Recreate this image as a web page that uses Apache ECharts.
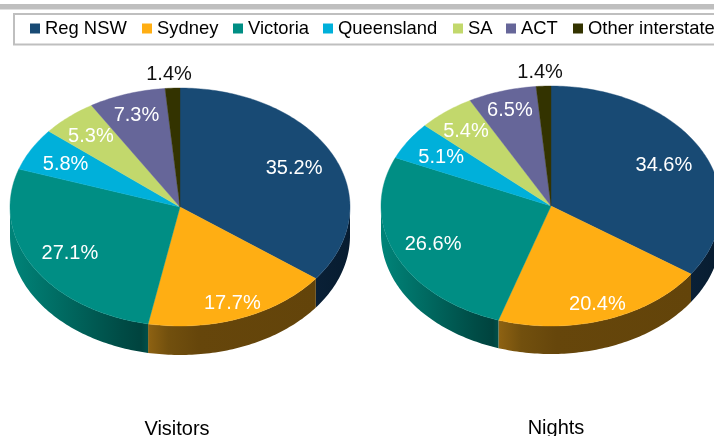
<!DOCTYPE html>
<html>
<head>
<meta charset="utf-8">
<style>
  html, body { margin: 0; padding: 0; background: #fff; }
  #main { width: 714px; height: 436px; overflow: hidden; }
</style>
<script src="https://cdn.jsdelivr.net/npm/echarts@6/dist/echarts.min.js"></script>
</head>
<body>
<div id="main"></div>
<script>
var categories = ['Reg NSW', 'Sydney', 'Victoria', 'Queensland', 'SA', 'ACT', 'Other interstate'];
var pieNames = ['Visitors', 'Nights'];
var visitors = [35.2, 17.7, 27.1, 5.8, 5.3, 7.3, 1.4];
var nights = [34.6, 20.4, 26.6, 5.1, 5.4, 6.5, 1.4];
var pieValues = [visitors, nights];

var colors = ['#184A74', '#FFAE13', '#008E84', '#00B0DA', '#C2D86C', '#666699', '#333300'];
var labelColors = ['#fff', '#fff', '#fff', '#fff', '#fff', '#fff', '#111'];

// layout of the two tilted pies
var pies = [
  {cx: 180, cy: 207, rx: 170, ry: 119, depth: 29},
  {cx: 551, cy: 206, rx: 170, ry: 120, depth: 28}
];
// how far out each label sits, as a share of the radius
var labelRadius = [
  [0.75, 0.855, 0.75, 0.77, 0.80, 0.82, 1.13],
  [0.75, 0.85, 0.76, 0.77, 0.81, 0.84, 1.13]
];
var legendLeft = [30, 142, 233, 323, 453, 506, 573];

// only the front half of the pie shows a wall
var wallFills = {
  0: [[0, '#0A2036'], [1, '#071C30']],
  1: [[0, '#8E6212'], [0.12, '#72500E'], [0.3, '#66460B'], [1, '#63440A']],
  2: [[0, '#008479'], [0.35, '#006C63'], [0.8, '#004C46'], [0.95, '#00433E'], [1, '#00504A']]
};

function point(pie, deg, yOffset) {
  var a = deg * Math.PI / 180;
  return [pie.cx + pie.rx * Math.sin(a), pie.cy - pie.ry * Math.cos(a) + (yOffset || 0)];
}

function renderSlice(catIndex) {
  return function (params) {
    var pieIndex = params.dataIndex;
    var pie = pies[pieIndex];
    var values = pieValues[pieIndex];
    var total = values.reduce(function (a, b) { return a + b; }, 0);
    var before = 0;
    for (var i = 0; i < catIndex; i++) before += values[i];
    var start = before / total * 360;
    var end = (before + values[catIndex]) / total * 360;
    var children = [];

    var wallStart = Math.max(start, 90);
    var wallEnd = Math.min(end, 270);
    if (wallEnd > wallStart) {
      var upper = [], lower = [];
      for (var d = wallStart; d < wallEnd; d += 1) {
        upper.push(point(pie, d));
        lower.unshift(point(pie, d, pie.depth));
      }
      upper.push(point(pie, wallEnd));
      lower.unshift(point(pie, wallEnd, pie.depth));
      children.push({
        type: 'polygon',
        z2: 1,
        shape: {points: upper.concat(lower)},
        style: {
          fill: {
            type: 'linear', x: 0, y: 0, x2: 1, y2: 0,
            colorStops: wallFills[catIndex].map(function (s) { return {offset: s[0], color: s[1]}; })
          }
        }
      });
    }

    var top = [[pie.cx, pie.cy]];
    for (var t = start; t < end; t += 1) top.push(point(pie, t));
    top.push(point(pie, end));
    children.push({
      type: 'polygon',
      z2: 2,
      shape: {points: top},
      style: {fill: colors[catIndex], stroke: colors[catIndex], lineWidth: 0.4}
    });

    var mid = (start + end) / 2 * Math.PI / 180;
    var frac = labelRadius[pieIndex][catIndex];
    var smallSlice = values[catIndex] < 2;
    children.push({
      type: 'text',
      z2: 3,
      x: pie.cx + pie.rx * frac * Math.sin(mid) + (smallSlice ? -2.5 : 0),
      y: pie.cy - pie.ry * frac * Math.cos(mid) + 1.5,
      style: {
        text: values[catIndex].toFixed(1) + '%',
        fill: labelColors[catIndex],
        font: '20px "Liberation Sans"',
        align: 'center',
        verticalAlign: 'middle'
      }
    });

    return {type: 'group', children: children};
  };
}

var series = categories.map(function (name, i) {
  return {
    type: 'custom',
    name: name,
    coordinateSystem: 'none',
    silent: true,
    color: colors[i],
    animation: false,
    data: [[visitors[i]], [nights[i]]],
    renderItem: renderSlice(i)
  };
});

var legends = categories.map(function (name, i) {
  return {
    data: [name],
    left: legendLeft[i],
    top: 19.5,
    padding: 0,
    icon: 'rect',
    itemWidth: 10,
    itemHeight: 10,
    selectedMode: false,
    textStyle: {fontFamily: 'Liberation Sans', fontSize: 18.4, color: '#000'}
  };
});

var option = {
  backgroundColor: '#fff',
  animation: false,
  legend: legends,
  title: [
    {text: pieNames[0], left: 177, top: 419, textAlign: 'center', padding: 0,
      textStyle: {fontFamily: 'Liberation Sans', fontSize: 20, fontWeight: 'normal', color: '#000'}},
    {text: pieNames[1], left: 556, top: 418, textAlign: 'center', padding: 0,
      textStyle: {fontFamily: 'Liberation Sans', fontSize: 20, fontWeight: 'normal', color: '#000'}}
  ],
  graphic: [
    {type: 'rect', shape: {x: 0, y: 4, width: 714, height: 5.5}, style: {fill: '#BFBFBF'}},
    {type: 'rect', shape: {x: 14, y: 14, width: 720, height: 30.5},
      style: {fill: 'none', stroke: '#BFBFBF', lineWidth: 2}}
  ],
  series: series
};

var chart = echarts.init(document.getElementById('main'));
chart.setOption(option);
</script>
</body>
</html>
